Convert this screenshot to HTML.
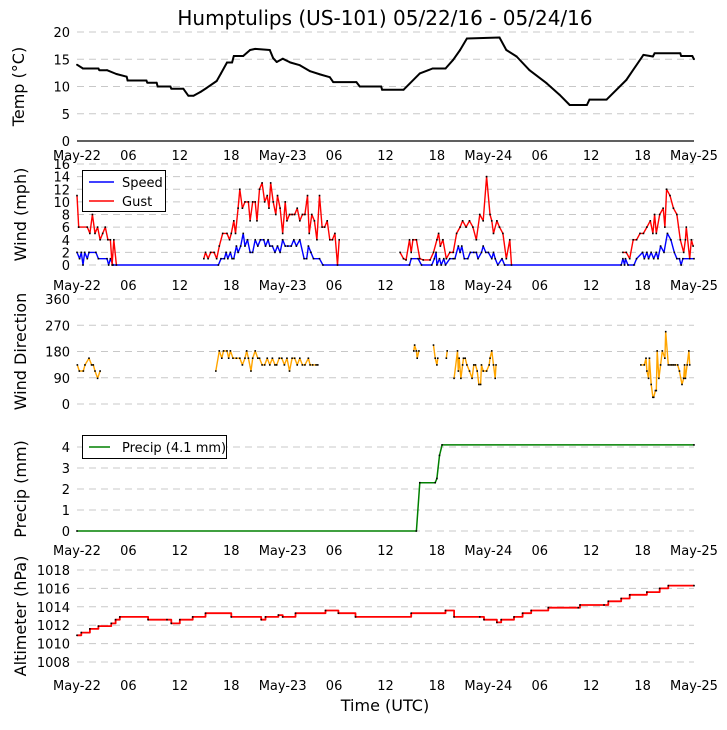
<!DOCTYPE html>
<html><head><meta charset="utf-8"><style>
body{margin:0;background:#fff;}
svg text{font-family:"DejaVu Sans","Liberation Sans",sans-serif;fill:#000;}
</style></head><body>
<svg id="c" width="727" height="725" xmlns="http://www.w3.org/2000/svg"></svg>
<script>
// ---------- data ----------
const xTickLabels=["May-22","06","12","18","May-23","06","12","18","May-24","06","12","18","May-25"];
const tempHours=[0,0.7,2.5,2.6,3.5,4.6,5.8,5.9,8.1,8.2,9.3,9.4,10.9,11,12.4,13,13.6,14.4,15.1,16.3,16.8,17.5,18.1,18.3,19.4,20.2,20.8,22.5,22.9,23.3,24,24.9,26,27.2,28.4,29.5,29.9,32.6,33,35.5,35.6,38.1,40,41,41.5,43,43.9,44.7,45.5,49.3,50.1,51.3,52.8,54.8,56.3,57.5,59.5,59.8,61.8,64.1,66.1,67.2,67.4,70.4,70.5,71.8,72];
const tempVals=[14,13.3,13.3,13,13,12.3,11.8,11.1,11.1,10.7,10.7,10,10,9.6,9.6,8.3,8.3,9,9.7,11,12.4,14.4,14.4,15.6,15.6,16.7,16.9,16.7,15.2,14.5,15.1,14.4,13.9,12.8,12.2,11.7,10.8,10.8,10,10,9.4,9.4,12.4,13,13.3,13.3,14.9,16.7,18.8,19,16.7,15.5,13,10.6,8.5,6.6,6.6,7.6,7.6,11.2,15.8,15.5,16.1,16.1,15.6,15.6,15];
const gustHours=[0,0.2,1.2,1.5,1.8,2.1,2.4,2.7,3.0,3.3,3.6,3.9,4.1,4.3,4.6,null,14.8,15,15.3,15.6,16,16.3,16.6,17,17.5,17.8,18,18.3,18.5,18.8,19,19.3,19.6,20,20.2,20.5,20.8,21,21.3,21.6,21.9,22.2,22.4,22.6,22.9,23.2,23.4,23.7,24,24.3,24.5,24.8,25.1,25.4,25.7,26,26.3,26.6,26.9,27.1,27.4,27.7,28,28.3,28.6,28.9,29.2,29.5,29.8,30.1,30.4,30.6,null,37.7,38.1,38.4,38.8,39,39.2,39.6,40,40.4,41.2,41.6,42,42.2,42.4,42.7,43.1,43.5,43.9,44.3,44.7,45,45.4,45.8,46.2,46.6,47,47.4,47.8,48.2,48.4,48.6,49,49.3,49.7,50.1,50.5,50.7,null,63.7,64.1,64.5,64.9,65.3,65.7,66.1,66.5,66.9,67.2,67.4,67.6,68,68.4,68.6,68.8,69.2,69.6,70,70.4,70.8,71,71.1,71.5,71.7,71.9];
const gustVals=[11,6,6,5,8,5,6,4,5,6,4,4,0,4,0,null,1,2,1,2,2,1,3,5,5,4,5,7,5,9,12,9,10,10,7,10,10,7,12,13,10,11,9,13,10,8,11,9,5,10,7,8,8,8,9,7,8,8,11,5,8,7,4,11,6,6,7,4,4,5,0,4,null,2,1,0.8,4,2,4,4,1,0.8,0.8,2,4,5,3,4,1,2,2,5,6,7,6,7,6,4,8,7,14,8,7,5,7,6,5,1,4,0,null,2,2,1,4,4,5,5,6,7,5,8,5,8,9,6,12,11,9,8,4,2,4,6,1,4,3];
const speedHours=[0,0.3,0.5,0.7,0.9,1.2,1.4,2.2,2.5,3.5,3.7,3.9,4.2,16.5,16.8,17.2,17.4,17.6,17.9,18.1,18.3,18.6,18.8,19.1,19.4,19.6,19.9,20.2,20.5,20.8,21.1,21.4,21.8,22,22.3,22.5,22.8,23.1,23.4,23.7,24,24.3,24.6,25,25.3,25.6,26,26.5,26.8,27,27.3,27.6,28.3,28.7,38.8,39,39.8,40.2,41.4,41.7,41.9,42,42.3,42.5,42.8,43,43.5,43.9,44.1,44.5,44.7,44.9,45.2,45.6,45.9,46.3,46.6,46.8,47.2,47.4,47.7,48,48.4,48.6,48.8,49.1,49.6,49.9,63.5,63.7,63.9,64,64.3,65,65.3,66,66.2,66.5,66.7,67,67.3,67.6,67.8,68.1,68.5,68.9,69.3,69.7,70,70.3,70.5,70.7,72];
const speedVals=[2,1,2,0,2,1,2,2,1,1,0,1,0,0,1,1,2,1,2,1,1,3,2,3,5,3,4,2,2,4,3,4,4,3,4,3,3,2,3,2,4,3,3,3,4,3,4,1,1,3,2,1,1,0,0,1,1,0,0,1,2,0,1,0,1,0,1,1,1,3,2,3,1,1,2,2,2,1,2,3,2,2,1,2,1,0,1,0,0,1,0,1,0,0,1,2,1,2,1,2,1,2,1,3,2,5,4,2,1,1,0,1,1];
const dirHours=[0.04,0.27,0.74,0.93,1.4,1.7,1.9,2.1,2.4,2.7,null,16.2,16.6,16.9,17.1,17.5,17.7,17.9,18.2,18.6,19,19.3,19.6,19.8,20,20.3,20.5,20.8,21.1,21.3,21.6,21.9,22.2,22.5,22.8,23.1,23.3,23.6,23.9,24.2,24.5,24.8,25.1,25.4,25.7,26,26.3,26.6,27,27.2,27.5,27.9,28.1,null,39.3,39.4,39.6,39.7,39.9,null,41.6,41.8,42,42.1,null,43.1,43.2,null,44,44.4,44.5,44.6,44.8,45,45.1,45.3,45.5,45.8,46.1,46.3,46.5,46.7,46.9,47.1,47.2,47.4,47.8,48.1,48.2,48.4,48.6,48.8,48.9,null,65.6,65.8,66.2,66.4,66.5,66.7,66.8,67,67.2,67.3,67.5,67.6,67.7,67.9,68.1,68.3,68.6,68.7,69,69.2,69.4,69.6,69.8,70.1,70.3,70.6,70.8,70.9,71,71.2,71.4,71.5];
const dirVals=[134,113,113,134,157,134,134,113,88,113,null,113,182,157,182,182,157,182,157,157,157,134,157,182,157,113,157,182,157,157,134,134,157,134,157,134,134,157,157,134,157,113,157,157,134,157,134,134,157,134,134,134,134,null,182,202,182,157,182,null,202,157,134,157,null,157,182,null,88,182,113,157,88,134,157,157,134,113,88,134,134,113,67,67,134,113,113,134,157,182,134,88,134,360,null,134,134,157,113,88,157,67,23,23,46,46,182,88,134,182,157,248,134,134,134,134,134,134,113,67,88,134,88,134,182,134,88,88];
const precipHours=[0,39.6,40,41.8,42,42.3,42.6,72];
const precipVals=[0,0,2.3,2.3,2.5,3.6,4.1,4.1];
const altHours=[0,0.5,1.5,2.5,4,4.5,5,8.3,10.5,11,12,13.5,15,18,21.5,22,23.5,24,25.5,29,30.5,32.5,39,43,44,47,47.5,49,49.5,51,52,53,55,58.5,58.7,61.5,62,63.5,64.5,66.5,68,69,72];
const altVals=[1010.9,1011.2,1011.6,1011.9,1012.2,1012.6,1012.9,1012.6,1012.6,1012.2,1012.6,1012.9,1013.3,1012.9,1012.6,1012.9,1013.1,1012.9,1013.3,1013.6,1013.3,1012.9,1013.3,1013.6,1012.9,1012.9,1012.6,1012.3,1012.6,1012.9,1013.3,1013.6,1013.9,1013.9,1014.2,1014.2,1014.6,1014.9,1015.3,1015.6,1016.0,1016.3,1016.3];

// ---------- drawing ----------
const NS="http://www.w3.org/2000/svg";
const svg=document.getElementById('c');
const X0=77,X1=694;
const xs=h=>X0+(X1-X0)*h/72;
function el(tag,attrs,parent){const e=document.createElementNS(NS,tag);for(const k in attrs)e.setAttribute(k,attrs[k]);(parent||svg).appendChild(e);return e;}
function txt(s,x,y,size,anchor,parent){const t=el('text',{x:x,y:y,'font-size':size,'text-anchor':anchor||'middle'},parent);t.textContent=s;return t;}

const title=txt("Humptulips (US-101) 05/22/16 - 05/24/16",385,25,20);


txt("Time (UTC)",385,711,16);

function panel(name,ylab,ymin,ymax,ytop,ybot,ticks,xlabY,opts){
  const g=el('g',{});
  
  
  const ys=v=>ybot+(ytop-ybot)*(v-ymin)/(ymax-ymin);
  ticks.forEach(v=>{
    const y=ys(v);
    if(!(opts&&opts.solidZero&&v===0)) el('line',{x1:X0,x2:X1,y1:y,y2:y,stroke:'#c8c8c8','stroke-dasharray':'7,5','stroke-width':1},g);
    const t=txt(String(v),70,y+5,13,'end',g);
    
  });
  if(opts&&opts.solidZero) el('line',{x1:X0,x2:X1,y1:ys(0),y2:ys(0),stroke:'#000','stroke-width':1.2},g);
  if(xlabY){const xg=el('g',{},g);
    xTickLabels.forEach((s,i)=>txt(s,xs(i*6),xlabY,13,'middle',xg));}
  const cy=(ytop+ybot)/2, lx=opts&&opts.lx||26;
  const yl=txt(ylab,lx,cy,16,'middle',g);
  yl.setAttribute('transform','rotate(-90 '+lx+' '+cy+')');
  
  return {g,ys};
}
function series(p,hours,vals,color,name,w,step){
  let d='',pen=false;const pts=[];let py=0;
  hours.forEach((h,i)=>{
    if(h===null||vals[i]===null){pen=false;return;}
    const x=xs(h),y=p.ys(vals[i]);pts.push([x,y]);
    if(pen&&step){d+='L'+x.toFixed(1)+' '+py.toFixed(1);}
    d+=(pen?'L':'M')+x.toFixed(1)+' '+y.toFixed(1);pen=true;py=y;
  });
  const path=el('path',{d:d,fill:'none',stroke:color,'stroke-width':w||1.5,'stroke-linejoin':'round'},p.g);
  
  
  pts.forEach(q=>el('rect',{x:q[0]-0.8,y:q[1]-0.8,width:1.6,height:1.6,fill:'#000'},p.g));
}

const pT=panel('temperature','Temp (\u00b0C)',0,20,32,141,[0,5,10,15,20],160,{solidZero:true,lx:24});
series(pT,tempHours,tempVals,'#000','temp-line',2,false);

const pW=panel('wind','Wind (mph)',0,16,164,265,[0,2,4,6,8,10,12,14,16],290,{});
series(pW,speedHours,speedVals,'#0000ff','speed-line',1.4);
series(pW,gustHours,gustVals,'#ff0000','gust-line',1.4);
const lg=el('g',{});
el('rect',{x:82.5,y:170.5,width:83,height:41,fill:'#fff',stroke:'#000'},lg);
el('line',{x1:89,x2:114,y1:182,y2:182,stroke:'#0000ff','stroke-width':1.4},lg);
el('line',{x1:89,x2:114,y1:201,y2:201,stroke:'#ff0000','stroke-width':1.4},lg);
txt('Speed',122,187,13,'start',lg);txt('Gust',122,206,13,'start',lg);

const pD=panel('wind-direction','Wind Direction',0,360,299,404,[0,90,180,270,360],426,{});
series(pD,dirHours,dirVals,'#ffa500','direction-line',1.4);
el('rect',{x:0,y:414,width:727,height:18,fill:'#fff'});

const pP=panel('precip','Precip (mm)',0,4,447,531,[0,1,2,3,4],555,{});
series(pP,precipHours,precipVals,'#008000','precip-line',1.5);
const lp=el('g',{});
el('rect',{x:82.5,y:435.5,width:144,height:23,fill:'#fff',stroke:'#000'},lp);
el('line',{x1:89,x2:110,y1:447,y2:447,stroke:'#008000','stroke-width':1.5},lp);
txt('Precip (4.1 mm)',122,452,13,'start',lp);

const pA=panel('altimeter','Altimeter (hPa)',1008,1018,570,662,[1008,1010,1012,1014,1016,1018],690,{});
series(pA,altHours,altVals,'#ff0000','altimeter-line',1.8,true);
</script>
</body></html>
